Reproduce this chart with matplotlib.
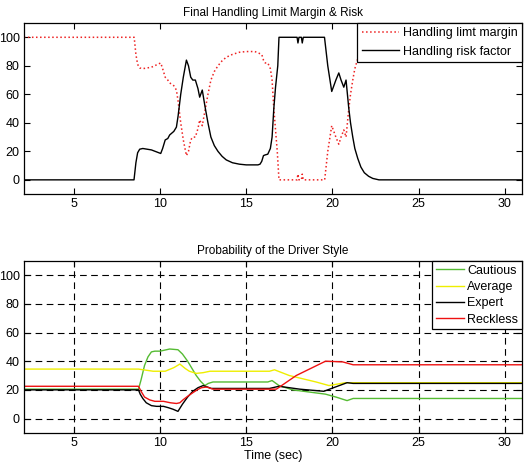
#!/usr/bin/env python3
"""
Handling limit margin / risk and driver style probability
"""
import numpy as np
import matplotlib
matplotlib.use('Agg')
import matplotlib.pyplot as plt

plt.rcParams['font.family'] = ['Liberation Sans Narrow', 'Liberation Sans', 'DejaVu Sans']

# ---- top panel: handling risk factor (black) ----
risk_t = [2.1, 8.49, 8.6, 8.7, 8.82, 9.0, 9.5, 10.04, 10.15, 10.3, 10.45, 10.56, 10.8, 10.95,
          11.05, 11.2, 11.35, 11.53, 11.65, 11.78, 11.9, 12.05, 12.2, 12.3, 12.45,
          12.6, 12.78, 12.95, 13.15, 13.36, 13.6, 13.84, 14.2, 14.6, 15.0, 15.68,
          15.8, 15.9, 16.0, 16.1, 16.25, 16.4, 16.5, 16.6, 16.7, 16.83, 16.9,
          17.95, 18.0, 18.06, 18.2, 18.25, 18.31, 19.54, 19.73, 19.96, 20.2, 20.37, 20.5,
          20.66, 20.79, 20.95, 21.05, 21.18, 21.3, 21.47, 21.65, 21.85, 22.1, 22.34, 22.7, 31.0]
risk_v = [0, 0, 12, 19, 21.5, 22, 21, 18.5, 22, 28, 29, 31.5, 34, 37,
          45, 60, 72, 84, 80, 72, 70, 70, 64, 58, 63,
          52, 40, 30, 24, 20, 16.5, 14, 12, 11, 10.5, 10.5,
          11, 13, 17, 17.5, 18, 22, 30, 50, 65, 80, 100,
          100, 96, 100, 100, 96, 100, 100, 80, 62, 70, 75, 70,
          65, 70, 50, 40, 30, 22, 15, 9, 5, 2.5, 1, 0, 0]

# ---- top panel: handling limit margin (red dotted) ----
margin_t = [2.1, 8.5, 8.6, 8.7, 8.82, 9.0, 9.5, 10.04, 10.15, 10.3, 10.45, 10.56, 10.8, 10.95,
            11.05, 11.2, 11.35, 11.53, 11.65, 11.78, 11.9, 12.05, 12.2, 12.3, 12.45,
            12.6, 12.78, 12.95, 13.15, 13.36, 13.6, 13.84, 14.2, 14.6, 15.0, 15.5,
            15.7, 15.9, 16.0, 16.1, 16.25, 16.4, 16.5, 16.6, 16.7, 16.8, 16.9,
            17.95, 18.0, 18.06, 18.2, 18.25, 18.31, 19.55, 19.73, 19.96, 20.2, 20.37, 20.5,
            20.66, 20.79, 20.95, 21.05, 21.18, 21.3, 21.47, 21.65, 21.85, 22.1, 22.34, 22.7,
            23.2, 31.0]
margin_v = [100, 100, 88, 81, 78.5, 78, 79, 82, 78, 72, 70, 68, 66, 63,
            55, 40, 28, 17, 20, 28, 30, 30, 36, 42, 38,
            48, 60, 70, 76, 80, 83.5, 86, 88, 89.5, 90, 90,
            89, 88, 84, 82, 82, 78, 70, 50, 35, 20, 0,
            0, 4, 0, 0, 4, 0, 0, 20, 38, 30, 25, 30,
            35, 30, 50, 60, 70, 78, 85, 91, 95, 97.5, 99, 99.7,
            100, 100]

# ---- bottom panel: driver style probabilities ----
cautious_t = [2.1, 8.75, 8.9, 9.1, 9.3, 9.5, 9.7, 10.0, 10.56, 11.04, 11.3, 11.6, 11.85, 12.1,
              12.35, 12.6, 12.8, 13.07, 16.25, 16.5, 16.9, 17.7, 19.6, 20.2, 20.85, 21.2, 31.0]
cautious_v = [20.5, 20.5, 27, 37, 43, 46.5, 47, 47, 48.5, 48, 45, 40, 35, 30,
              26, 23, 24.5, 25.5, 25.5, 26.5, 23, 20, 17, 15, 12.5, 14, 14]

average_t = [2.1, 8.75, 9.6, 10.3, 10.8, 11.15, 11.45, 11.7, 12.1, 12.5, 12.9, 16.35, 16.64,
             17.5, 19.05, 19.8, 20.75, 31.0]
average_v = [34.5, 34.5, 33, 33, 35.5, 38, 35, 33, 31.5, 32, 33, 33, 34,
             30, 25.5, 23, 25, 25]

expert_t = [2.1, 8.75, 8.85, 9.0, 9.2, 9.5, 9.8, 10.2, 10.5, 10.75, 11.04, 11.3, 11.6, 11.9,
            12.2, 12.5, 12.75, 12.97, 16.35, 16.9, 18.1, 19.5, 20.85, 21.2, 31.0]
expert_v = [20, 20, 17, 14, 11, 9, 8.5, 8.5, 7.5, 6.5, 5, 10, 15, 19,
            21.5, 23, 22, 21, 21, 22.5, 20.5, 19, 25, 24.5, 24.5]

reckless_t = [2.1, 8.75, 8.9, 9.1, 9.4, 9.7, 10.2, 10.6, 10.95, 11.15, 11.33, 11.6, 11.9,
              12.15, 12.4, 12.7, 13.07, 16.75, 17.9, 19.6, 20.6, 21.2, 31.0]
reckless_v = [22.5, 22.5, 19, 15, 13, 12, 12, 11, 10.5, 11, 13, 15.5, 18,
              20, 21.5, 22, 20.5, 20.5, 30, 40, 39.5, 37.5, 37.5]

x_ticks = [5, 10, 15, 20, 25, 30]
y_ticks = [0, 20, 40, 60, 80, 100]

fig = plt.figure(figsize=(5.3, 4.7), dpi=100)
ax1 = fig.add_axes([0.045, 0.587, 0.94, 0.364])
ax2 = fig.add_axes([0.045, 0.079, 0.94, 0.366])

for ax in (ax1, ax2):
    ax.set_xlim(2.1, 31)
    ax.set_ylim(-10, 110)
    ax.set_xticks(x_ticks)
    ax.set_yticks(y_ticks)
    ax.tick_params(direction='in', top=True, right=True, labelsize=9, length=4, pad=3)
    for s in ax.spines.values():
        s.set_linewidth(0.9)

# 上图
ax1.plot(margin_t, margin_v, ':', color='#ee2222', linewidth=1.1, label='Handling limt margin')
ax1.plot(risk_t, risk_v, '-', color='black', linewidth=1.0, label='Handling risk factor')
ax1.set_title('Final Handling Limit Margin & Risk', fontsize=8.5, pad=5)
leg1 = ax1.legend(loc='upper right', fontsize=9, frameon=True, fancybox=False,
                  edgecolor='black', borderpad=0.35, handlelength=3, handletextpad=0.3,
                  labelspacing=0.5, borderaxespad=0.0, framealpha=1)
leg1.get_frame().set_linewidth(0.9)

# 下图
ax2.grid(True, linestyle=(0, (6, 4)), color='black', linewidth=0.8)
ax2.plot(cautious_t, cautious_v, color='#55bb33', linewidth=1.0, label='Cautious')
ax2.plot(average_t, average_v, color='#eeee00', linewidth=1.0, label='Average')
ax2.plot(expert_t, expert_v, color='black', linewidth=1.0, label='Expert')
ax2.plot(reckless_t, reckless_v, color='#ee1111', linewidth=1.0, label='Reckless')
ax2.set_title('Probability of the Driver Style', fontsize=8.5, pad=5)
ax2.set_xlabel('Time (sec)', fontsize=9, labelpad=1)
leg2 = ax2.legend(loc='upper right', fontsize=9, frameon=True, fancybox=False,
                  edgecolor='black', borderpad=0.3, handlelength=2.2, handletextpad=0.3,
                  labelspacing=0.35, borderaxespad=0.0, framealpha=1)
leg2.get_frame().set_linewidth(0.9)

plt.savefig('out.png', dpi=100)
plt.close()
